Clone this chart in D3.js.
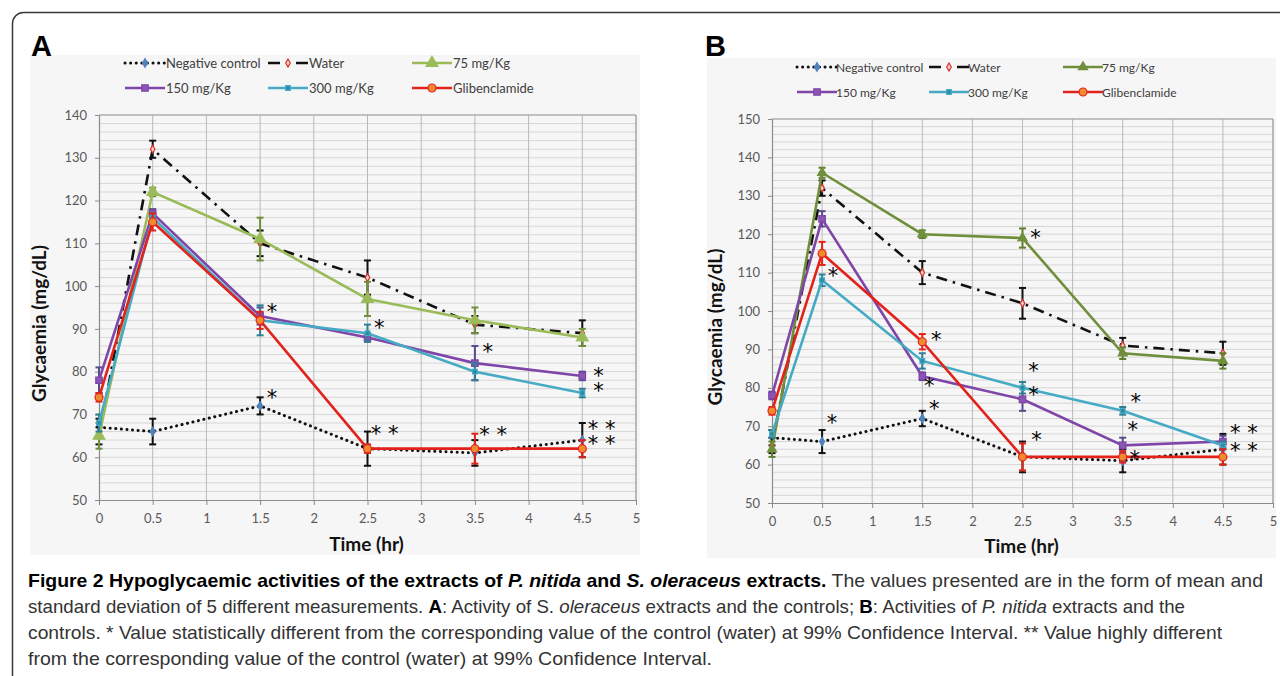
<!DOCTYPE html>
<html>
<head>
<meta charset="utf-8">
<script src="https://cdn.jsdelivr.net/npm/d3@7"></script>
<style>
  body { margin: 0; background: #fff; }
  svg { display: block; }
</style>
</head>
<body>
<svg id="fig" width="1280" height="676"></svg>
<script>
// time points (hr) and legend names
var times = [0, 0.5, 1.5, 2.5, 3.5, 4.5];
var seriesNames = ['Negative control', 'Water', '75 mg/Kg', '150 mg/Kg', '300 mg/Kg', 'Glibenclamide'];
var xTicks = [0, 0.5, 1, 1.5, 2, 2.5, 3, 3.5, 4, 4.5, 5];
var yTicksA = [50, 60, 70, 80, 90, 100, 110, 120, 130, 140];
var yTicksB = [50, 60, 70, 80, 90, 100, 110, 120, 130, 140, 150];

// panel A : S. oleraceus
var aNegative = [67, 66, 72, 62, 61, 64];
var aNegativeErr = [2, 3, 2, 4, 3, 4];
var aWater = [65, 132, 110, 102, 91, 89];
var aWaterErr = [2, 2, 3, 4, 2, 3];
var a75 = [65, 122, 111, 97, 92, 88];
var a75Err = [3, 1, 5, 4, 3, 2];
var a150 = [78, 117, 93, 88, 82, 79];
var a150Err = [3, 1, 2, 1, 4, 1];
var a300 = [68, 116, 92, 89, 80, 75];
var a300Err = [2, 1, 3.5, 2, 2, 1];
var aGlib = [74, 115, 92, 62, 62, 62];
var aGlibErr = [1, 2, 2, 1, 3.5, 2];
var aStarX = [1.61, 2.61, 3.62, 4.65, 4.65, 2.66, 3.67, 4.68, 4.68, 1.61];
var aStarY = [95.4, 91.5, 86.0, 80.3, 76.9, 66.9, 66.7, 68.0, 64.5, 75.3];
var aStarText = ['*', '*', '*', '*', '*', '* *', '* *', '* *', '* *', '*'];

// panel B : P. nitida
var bNegative = [67, 66, 72, 62, 61, 64];
var bNegativeErr = [2, 3, 2, 4, 3, 4];
var bWater = [65, 132, 110, 102, 91, 89];
var bWaterErr = [2, 2, 3, 4, 2, 3];
var b75 = [64, 136, 120, 119, 89, 87];
var b75Err = [2, 1.3, 1, 2.5, 1.5, 2];
var b150 = [78, 124, 83, 77, 65, 66];
var b150Err = [1, 2, 1, 3, 2, 1.5];
var b300 = [68, 108, 87, 80, 74, 65];
var b300Err = [1, 1.5, 2, 1.5, 1, 1];
var bGlib = [74, 115, 92, 62, 62, 62];
var bGlibErr = [1, 3, 2, 3.5, 1.5, 2];
var bStarX = [0.61, 1.64, 2.63, 0.60, 1.57, 1.62, 2.61, 2.61, 2.64, 3.63, 3.60, 3.62, 4.71, 4.74];
var bStarY = [110.6, 93.9, 120.6, 72.3, 82.0, 76.1, 85.9, 79.8, 67.9, 77.9, 70.5, 63.1, 69.8, 65.2];
var bStarText = ['*', '*', '*', '*', '*', '*', '*', '*', '*', '*', '*', '*', '* *', '* *'];

var svg = d3.select('#fig');
var chartFont = 'Lato, "Open Sans", sans-serif';

// outer frame
svg.append('rect')
  .attr('x', 12.5).attr('y', 12.5)
  .attr('width', 1320).attr('height', 720)
  .attr('rx', 11)
  .attr('fill', 'none')
  .attr('stroke', '#3a3a3a')
  .attr('stroke-width', 1.5);

function drawPanel(p) {
  var g = svg.append('g');

  g.append('rect')
    .attr('x', p.bg[0]).attr('y', p.bg[1])
    .attr('width', p.bg[2]).attr('height', p.bg[3])
    .attr('fill', '#f6f6f6');

  var x = d3.scaleLinear().domain([0, 5]).range([p.left, p.right]);
  var y = d3.scaleLinear().domain([50, p.yMax]).range([p.bottom, p.top]);

  // grid
  g.selectAll('line.hgrid')
    .data(d3.range(52, p.yMax + 1, 2))
    .join('line')
    .attr('class', 'hgrid')
    .attr('x1', p.left).attr('x2', p.right)
    .attr('y1', d => y(d)).attr('y2', d => y(d))
    .attr('stroke', '#d6d6d6').attr('stroke-width', 1);
  g.selectAll('line.vgrid')
    .data(xTicks.slice(1))
    .join('line')
    .attr('class', 'vgrid')
    .attr('x1', d => x(d)).attr('x2', d => x(d))
    .attr('y1', p.top).attr('y2', p.bottom)
    .attr('stroke', '#b9b9b9').attr('stroke-width', 1);
  g.append('line')
    .attr('x1', p.left).attr('x2', p.right)
    .attr('y1', p.top).attr('y2', p.top)
    .attr('stroke', '#9a9a9a');
  g.append('line')
    .attr('x1', p.right).attr('x2', p.right)
    .attr('y1', p.top).attr('y2', p.bottom)
    .attr('stroke', '#9a9a9a');

  // axes
  var yAxis = g.append('g')
    .attr('transform', 'translate(' + p.left + ',0)')
    .call(d3.axisLeft(y).tickValues(p.yTicks).tickSize(4).tickSizeOuter(0).tickPadding(8).tickFormat(d3.format('d')));
  var xAxis = g.append('g')
    .attr('transform', 'translate(0,' + p.bottom + ')')
    .call(d3.axisBottom(x).tickValues(xTicks).tickSize(5).tickSizeOuter(0).tickPadding(9).tickFormat(d3.format('~g')));
  [xAxis, yAxis].forEach(a => {
    a.select('.domain').attr('stroke', '#8a8a8a').attr('stroke-width', 1.2);
    a.selectAll('.tick line').attr('stroke', '#8a8a8a');
    a.selectAll('.tick text')
      .attr('fill', '#595959')
      .style('font-family', chartFont)
      .style('font-size', '13px');
  });

  // axis titles
  g.append('text')
    .attr('transform', 'translate(' + p.yTitleX + ',' + ((p.top + p.bottom) / 2 + 16) + ') rotate(-90)')
    .attr('text-anchor', 'middle')
    .style('font-family', chartFont).style('font-weight', 'bold').style('font-size', '19px')
    .attr('fill', '#111')
    .text('Glycaemia (mg/dL)');
  g.append('text')
    .attr('x', (p.left + p.right) / 2 - 1).attr('y', p.xTitleY)
    .attr('text-anchor', 'middle')
    .style('font-family', chartFont).style('font-weight', 'bold').style('font-size', '19px')
    .attr('fill', '#111')
    .text('Time (hr)');

  // panel letter
  g.append('text')
    .attr('x', p.letterX).attr('y', 56)
    .style('font-family', '"Liberation Sans", Arial, sans-serif').style('font-weight', 'bold').style('font-size', '29px')
    .attr('fill', '#000')
    .text(p.letter);

  var line = d3.line().x((d, i) => x(times[i])).y(d => y(d));

  p.series.forEach((vals, s) => {
    var st = p.styles[s];
    var errs = p.errs[s];
    // error bars
    var eb = g.append('g');
    vals.forEach((v, i) => {
      var cx = x(times[i]);
      eb.append('line')
        .attr('x1', cx).attr('x2', cx)
        .attr('y1', y(v - errs[i])).attr('y2', y(v + errs[i]))
        .attr('stroke', st.err).attr('stroke-width', 2);
      [v - errs[i], v + errs[i]].forEach(e => {
        eb.append('line')
          .attr('x1', cx - 3.5).attr('x2', cx + 3.5)
          .attr('y1', y(e)).attr('y2', y(e))
          .attr('stroke', st.err).attr('stroke-width', 2);
      });
    });
    g.append('path')
      .attr('d', line(vals))
      .attr('fill', 'none')
      .attr('stroke', st.color)
      .attr('stroke-width', st.width)
      .attr('stroke-linecap', st.cap || 'butt')
      .attr('stroke-dasharray', st.dash || null);
    g.selectAll(null)
      .data(vals)
      .join('path')
      .attr('transform', (d, i) => 'translate(' + x(times[i]) + ',' + y(d) + ')')
      .attr('d', d3.symbol().type(st.symbol).size(st.size))
      .attr('fill', st.fill)
      .attr('stroke', st.stroke)
      .attr('stroke-width', 1.2);
  });

  // significance marks: marks stacked right under each other share one text
  var groups = [];
  p.starText.forEach((t, i) => {
    var last = groups[groups.length - 1];
    if (last && Math.abs(last.x - p.starX[i]) < 0.06 && Math.abs(y(last.ys[last.ys.length - 1]) - y(p.starY[i])) < 20) {
      last.ys.push(p.starY[i]);
      last.ts.push(t);
    } else {
      groups.push({x: p.starX[i], ys: [p.starY[i]], ts: [t]});
    }
  });
  groups.forEach(gr => {
    var t = g.append('text')
      .attr('text-anchor', 'middle')
      .style('font-family', '"DejaVu Sans", sans-serif')
      .style('font-size', '21px')
      .attr('fill', '#000');
    gr.ts.forEach((s, k) => {
      t.append('tspan')
        .attr('x', x(gr.x))
        .attr('y', y(gr.ys[k]) + 13)
        .text(s);
    });
  });

  // legend
  seriesNames.forEach((name, s) => {
    var st = p.styles[s];
    var lx = p.legendCols[s % 3];
    var ly = p.legendRows[Math.floor(s / 3)];
    g.append('line')
      .attr('x1', lx).attr('x2', lx + 40)
      .attr('y1', ly).attr('y2', ly)
      .attr('stroke', st.color)
      .attr('stroke-width', st.width)
      .attr('stroke-linecap', st.cap || 'butt')
      .attr('stroke-dasharray', st.legendDash || null);
    g.append('path')
      .attr('transform', 'translate(' + (lx + 20) + ',' + ly + ')')
      .attr('d', d3.symbol().type(st.symbol).size(st.size))
      .attr('fill', st.fill)
      .attr('stroke', st.stroke)
      .attr('stroke-width', 1.2);
    g.append('text')
      .attr('x', lx + p.legendGap).attr('y', ly + 4.5)
      .style('font-family', chartFont).style('font-size', p.legendSize + 'px')
      .attr('fill', '#404040')
      .text(name);
  });
}

function seriesStyles(green, greenErr, greenSize) {
  return [
    {color: '#111', err: '#111', width: 3, dash: '0.1,5.5', legendDash: '0.1,5.5', cap: 'round', symbol: d3.symbolDiamond, size: 22, fill: '#4f81bd', stroke: '#4f81bd'},
    {color: '#111', err: '#111', width: 2.6, dash: '11,6,2.5,6', legendDash: '12,16,12', symbol: d3.symbolDiamond, size: 18, fill: '#f6d0c8', stroke: '#d0312d'},
    {color: green, err: greenErr, width: 2.6, symbol: d3.symbolTriangle, size: greenSize, fill: green, stroke: green},
    {color: '#7f45a8', err: '#5b4a8c', width: 2.6, symbol: d3.symbolSquare, size: 42, fill: '#8a55b5', stroke: '#7f45a8'},
    {color: '#45aac4', err: '#2f7f95', width: 2.6, symbol: d3.symbolSquare, size: 22, fill: '#2f8aa3', stroke: '#45aac4'},
    {color: '#e2231c', err: '#e2231c', width: 2.6, symbol: d3.symbolCircle, size: 50, fill: '#f08a2e', stroke: '#e2231c'}
  ];
}

drawPanel({
  letter: 'A', letterX: 31,
  bg: [30, 55, 610, 500],
  left: 99, right: 636, top: 115, bottom: 500, yMax: 140,
  yTicks: yTicksA, yTitleX: 46, xTitleY: 551,
  series: [aNegative, aWater, a75, a150, a300, aGlib],
  errs: [aNegativeErr, aWaterErr, a75Err, a150Err, a300Err, aGlibErr],
  styles: seriesStyles('#9bbb59', '#6f8f3a', 60),
  starX: aStarX, starY: aStarY, starText: aStarText,
  legendCols: [125, 268, 412], legendRows: [63, 88], legendGap: 41, legendSize: 13
});

drawPanel({
  letter: 'B', letterX: 705,
  bg: [707, 58, 569, 500],
  left: 772, right: 1273, top: 119, bottom: 503, yMax: 150,
  yTicks: yTicksB, yTitleX: 722, xTitleY: 553,
  series: [bNegative, bWater, b75, b150, b300, bGlib],
  errs: [bNegativeErr, bWaterErr, b75Err, b150Err, b300Err, bGlibErr],
  styles: seriesStyles('#6f8f3a', '#5f7f30', 36),
  starX: bStarX, starY: bStarY, starText: bStarText,
  legendCols: [797, 929, 1063], legendRows: [67, 92], legendGap: 39, legendSize: 12
});

// caption
var captionLines = [
  [['Figure 2 Hypoglycaemic activities of the extracts of ', 'b'], ['P. nitida', 'bi'], [' and ', 'b'], ['S. oleraceus', 'bi'], [' extracts.', 'b'], [' The values presented are in the form of mean and', '']],
  [['standard deviation of 5 different measurements. ', ''], ['A', 'b'], [': Activity of S. ', ''], ['oleraceus', 'i'], [' extracts and the controls; ', ''], ['B', 'b'], [': Activities of ', ''], ['P. nitida', 'i'], [' extracts and the', '']],
  [['controls. * Value statistically different from the corresponding value of the control (water) at 99% Confidence Interval. ** Value highly different', '']],
  [['from the corresponding value of the control (water) at 99% Confidence Interval.', '']]
];
var captionWidths = [1235, 1157, 1194, 684];

captionLines.forEach((parts, i) => {
  var t = svg.append('text')
    .attr('x', 28).attr('y', 587 + i * 26)
    .attr('textLength', captionWidths[i])
    .attr('lengthAdjust', 'spacingAndGlyphs')
    .style('font-family', '"Liberation Sans Narrow", "Arial Narrow", sans-serif')
    .style('font-size', '19px')
    .attr('fill', '#333');
  parts.forEach(pt => {
    t.append('tspan')
      .style('font-weight', pt[1].indexOf('b') >= 0 ? 'bold' : 'normal')
      .style('font-style', pt[1].indexOf('i') >= 0 ? 'italic' : 'normal')
      .attr('fill', pt[1].indexOf('b') >= 0 ? '#000' : '#333')
      .text(pt[0]);
  });
});
</script>
</body>
</html>
